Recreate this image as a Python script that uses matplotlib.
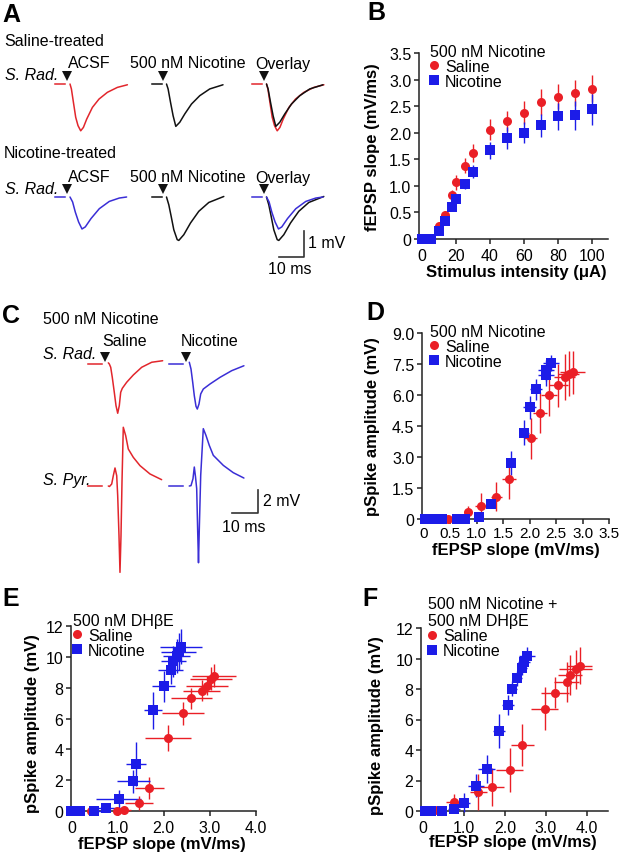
import matplotlib
matplotlib.use('Agg')
import matplotlib.pyplot as plt
from matplotlib.lines import Line2D

plt.rcParams['font.family'] = ['Liberation Sans', 'DejaVu Sans']

# ---------------- DATA ----------------
# Panel A traces: time (ms from stimulus), voltage (mV from baseline)
base_t = [-6.0, -2.0]
base_v = [0.0, 0.0]
a_sal_acsf_t = [0, 0.56, 1.36, 2.28, 3.2, 4.28, 5.36, 6.68, 8.96, 11.6, 14.96, 18.96, 22.96]
a_sal_acsf_v = [0, -0.19, -0.7, -1.28, -1.6, -1.8, -1.67, -1.35, -0.9, -0.58, -0.32, -0.13, -0.03]
a_sal_nic_t = [0, 0.64, 1.6, 2.64, 3.72, 5.32, 7.32, 10.0, 13.3, 17.3, 22.6]
a_sal_nic_v = [0, -0.19, -0.7, -1.22, -1.63, -1.47, -1.15, -0.77, -0.45, -0.19, -0.03]
a_nic_acsf_t = [0, 1.04, 2.12, 3.44, 4.8, 6.12, 8.4, 11.72, 15.72, 19.72, 22.64]
a_nic_acsf_v = [0, -0.19, -0.58, -0.96, -1.23, -1.15, -0.83, -0.45, -0.17, -0.04, 0]
a_nic_nic_t = [0, 0.92, 1.88, 2.92, 4.28, 4.92, 6.92, 9.6, 12.92, 16.92, 22.92]
a_nic_nic_v = [0, -0.3, -0.75, -1.26, -1.64, -1.67, -1.45, -1.0, -0.55, -0.21, 0.02]

# Panel C traces
c_base_t = [-8.0, -2.5]
c_rad_sal_t = [0, 0.4, 0.95, 1.57, 2.36, 3.03, 3.7, 4.33, 4.88, 5.51, 7.24, 9.84, 13.15, 17.1, 21.4]
c_rad_sal_v = [0.1, 0, -0.28, -1.14, -2.42, -3.56, -4.21, -3.56, -2.42, -2.08, -1.56, -0.94, -0.28, 0.15, 0.28]
c_rad_nic_t = [0, 0.67, 1.34, 1.97, 2.64, 3.15, 3.82, 4.49, 5.51, 8.15, 12.1, 16.7, 21.5]
c_rad_nic_v = [0.15, -0.43, -1.56, -2.71, -3.62, -3.85, -3.42, -2.56, -2.14, -1.71, -1.14, -0.57, -0.15]
c_pyr_sal_t = [0, 0.47, 1.34, 1.97, 2.64, 3.31, 3.7, 4.21, 4.6, 5.0, 5.39, 5.9, 6.85, 7.87, 9.84, 12.48, 16.4, 21.0]
c_pyr_sal_v = [0, -0.04, 0.17, 0.88, 1.54, 0.88, -0.83, -4.25, -7.38, -4.25, 0.32, 5.02, 4.3, 3.16, 2.45, 1.74, 1.03, 0.54]
c_pyr_nic_t = [0, 0.67, 1.45, 1.97, 2.44, 2.91, 3.31, 3.62, 3.94, 4.49, 5.51, 6.57, 7.87, 9.45, 13.4, 17.3, 21.5]
c_pyr_nic_v = [0, 0.03, 0.62, 1.62, 0.79, -0.23, -3.93, -6.56, -3.65, 0.91, 4.9, 4.32, 3.47, 2.62, 1.76, 1.14, 0.68]

# Panel B
b_stim = [0, 5, 10, 13.5, 17.5, 20, 25, 30, 40, 50, 60, 70, 80, 90, 100]
b_sal = [0, 0, 0.24, 0.45, 0.83, 1.07, 1.38, 1.62, 2.06, 2.22, 2.38, 2.58, 2.68, 2.75, 2.83]
b_sal_err = [0, 0, 0.06, 0.08, 0.1, 0.14, 0.14, 0.17, 0.2, 0.19, 0.21, 0.24, 0.24, 0.25, 0.25]
b_nic = [0, 0, 0.15, 0.34, 0.61, 0.75, 1.04, 1.27, 1.67, 1.9, 2.0, 2.14, 2.31, 2.33, 2.44]
b_nic_err = [0, 0, 0.04, 0.05, 0.05, 0.06, 0.09, 0.12, 0.16, 0.2, 0.2, 0.22, 0.25, 0.27, 0.29]

# Panel D
d_sal_x = [0.25, 0.46, 0.83, 1.07, 1.37, 1.61, 2.02, 2.2, 2.36, 2.54, 2.66, 2.74, 2.81]
d_sal_y = [0, 0, 0.32, 0.65, 1.07, 1.94, 3.9, 5.14, 5.98, 6.46, 6.87, 7.04, 7.1]
d_sal_xerr = [0, 0.05, 0.08, 0.1, 0.1, 0.13, 0.12, 0.13, 0.15, 0.18, 0.2, 0.2, 0.23]
d_sal_yerr = [0, 0, 0.3, 0.6, 0.7, 0.95, 1.0, 1.0, 1.0, 1.05, 1.1, 1.1, 1.05]
d_nic_x = [0.02, 0.18, 0.35, 0.63, 0.78, 1.05, 1.27, 1.65, 1.89, 2.0, 2.12, 2.31, 2.31, 2.4]
d_nic_y = [0, 0, 0, 0, 0, 0.1, 0.71, 2.71, 4.17, 5.41, 6.27, 6.95, 7.19, 7.54]
d_nic_xerr = [0, 0, 0, 0, 0, 0.07, 0.08, 0.08, 0.1, 0.12, 0.12, 0.15, 0.15, 0.15]
d_nic_yerr = [0, 0, 0, 0, 0, 0.05, 0.2, 0.6, 0.6, 0.55, 0.5, 0.5, 0.5, 0.4]

# Panel E
e_sal_x = [0.42, 0.99, 1.13, 1.47, 1.69, 2.09, 2.42, 2.6, 2.82, 2.94, 3.02, 3.09]
e_sal_y = [0, 0, 0.05, 0.5, 1.5, 4.72, 6.33, 7.3, 7.81, 8.13, 8.58, 8.78]
e_sal_xerr = [0.05, 0.1, 0.15, 0.3, 0.32, 0.5, 0.45, 0.44, 0.41, 0.45, 0.46, 0.47]
e_sal_yerr = [0, 0, 0.1, 0.45, 0.7, 0.86, 0.75, 0.7, 0.7, 0.6, 0.75, 0.75]
e_nic_x = [0.0, 0.18, 0.48, 0.75, 1.02, 1.34, 1.4, 1.77, 2.0, 2.15, 2.21, 2.28, 2.33, 2.37]
e_nic_y = [0, 0, 0, 0.17, 0.75, 1.93, 3.05, 6.55, 8.09, 9.12, 9.7, 10.06, 10.32, 10.67]
e_nic_xerr = [0, 0.05, 0.15, 0.3, 0.48, 0.36, 0.22, 0.2, 0.25, 0.27, 0.28, 0.3, 0.38, 0.45]
e_nic_yerr = [0, 0, 0, 0.1, 0.6, 0.75, 1.4, 1.2, 1.0, 0.85, 1.0, 1.1, 1.2, 1.15]

# Panel F
f_sal_x = [0.28, 0.76, 1.35, 1.67, 2.11, 2.42, 2.97, 3.22, 3.5, 3.58, 3.72, 3.82]
f_sal_y = [0.05, 0.6, 1.24, 1.6, 2.7, 4.33, 6.72, 7.76, 8.46, 8.91, 9.28, 9.54]
f_sal_xerr = [0.05, 0.2, 0.2, 0.3, 0.33, 0.28, 0.33, 0.35, 0.3, 0.3, 0.4, 0.3]
f_sal_yerr = [0, 0.5, 1.2, 1.25, 1.45, 1.4, 1.4, 1.0, 1.3, 1.3, 1.3, 1.2]
f_nic_x = [0.04, 0.2, 0.45, 0.76, 1.0, 1.29, 1.55, 1.85, 2.07, 2.18, 2.3, 2.41, 2.47, 2.54]
f_nic_y = [0, 0, 0, 0.1, 0.55, 1.67, 2.76, 5.26, 6.96, 8.02, 8.7, 9.39, 9.76, 10.15]
f_nic_xerr = [0, 0, 0, 0.15, 0.15, 0.2, 0.2, 0.15, 0.15, 0.12, 0.12, 0.12, 0.15, 0.2]
f_nic_yerr = [0, 0, 0, 0.1, 0.6, 0.75, 0.9, 1.1, 0.65, 0.5, 0.5, 0.45, 0.5, 0.6]

# ---------------- STYLE / LAYOUT ----------------
W, H, DPI = 621, 853, 100
RED = '#ea1f26'
BLUE = '#1c1ce8'
TRED = '#e2262c'
TBLUE = '#3a2ed6'
BLACK = '#111111'
FS = 11.5
LFS = 12
PFS = 18

fig = plt.figure(figsize=(W / DPI, H / DPI), dpi=DPI)


def rect(l, t, r, b):
    return [l / W, 1 - b / H, (r - l) / W, (b - t) / H]


def ftext(x, y, s, **kw):
    kw.setdefault('fontsize', FS)
    kw.setdefault('va', 'center')
    kw.setdefault('ha', 'left')
    fig.text(x / W, 1 - y / H, s, **kw)


def trace(ax, t, v, x0, y0, color, lw=1.1):
    ax.plot([x0 + a for a in t], [y0 + b for b in v], color=color, lw=lw,
            solid_joinstyle='round', solid_capstyle='round')


def baseline(ax, bt, x0, y0, color, lw=1.1):
    ax.plot([x0 + a for a in bt], [y0 + b for b in base_v], color=color, lw=lw)


# ---------------- PANEL A ----------------
axA = fig.add_axes(rect(0, 60, 340, 280))
axA.set_xlim(0, 340 / 2.5)
axA.set_ylim(-220 / 26, 0)
axA.axis('off')
colsA = [70 / 2.5, 166.5 / 2.5, 266.5 / 2.5]
rowsA = [-25 / 26, -138 / 26]
# row 1: saline-treated
baseline(axA, base_t, colsA[0], rowsA[0], TRED)
trace(axA, a_sal_acsf_t, a_sal_acsf_v, colsA[0], rowsA[0], TRED)
baseline(axA, base_t, colsA[1], rowsA[0], BLACK)
trace(axA, a_sal_nic_t, a_sal_nic_v, colsA[1], rowsA[0], BLACK)
baseline(axA, base_t, colsA[2], rowsA[0], TRED)
trace(axA, a_sal_acsf_t, a_sal_acsf_v, colsA[2], rowsA[0], TRED)
trace(axA, a_sal_nic_t, a_sal_nic_v, colsA[2], rowsA[0], BLACK)
# row 2: nicotine-treated
baseline(axA, base_t, colsA[0], rowsA[1], TBLUE)
trace(axA, a_nic_acsf_t, a_nic_acsf_v, colsA[0], rowsA[1], TBLUE)
baseline(axA, base_t, colsA[1], rowsA[1], BLACK)
trace(axA, a_nic_nic_t, a_nic_nic_v, colsA[1], rowsA[1], BLACK)
baseline(axA, base_t, colsA[2], rowsA[1], TBLUE)
trace(axA, a_nic_nic_t, a_nic_nic_v, colsA[2], rowsA[1], BLACK)
trace(axA, a_nic_acsf_t, a_nic_acsf_v, colsA[2], rowsA[1], TBLUE)
for r in rowsA:
    for c in colsA:
        axA.plot(c - 1.2, r + 0.3, marker='v', color=BLACK, ms=7, mew=0)
# scale bar (10 ms, 1 mV)
sbx, sby = 304 / 2.5, -(258 - 60) / 26
axA.plot([sbx - 10, sbx, sbx], [sby, sby, sby + 1], color='#333333', lw=1.2)

ftext(2, 15, 'A', fontsize=PFS, fontweight='bold')
ftext(4, 41, 'Saline-treated')
ftext(4, 154, 'Nicotine-treated')
for yy in (64, 178):
    ftext(68, yy, 'ACSF')
    ftext(130, yy, '500 nM Nicotine')
    ftext(255, yy, 'Overlay')
ftext(5, 75, 'S. Rad.', style='italic')
ftext(5, 189, 'S. Rad.', style='italic')
ftext(308, 244, '1 mV')
ftext(268, 270, '10 ms')

# ---------------- PANEL C ----------------
axC = fig.add_axes(rect(0, 340, 340, 600))
axC.set_xlim(0, 340 / 2.54)
axC.set_ylim(-260 / 11.7, 0)
axC.axis('off')
colsC = [108.3 / 2.54, 189.3 / 2.54]
rowsC = [-25 / 11.7, -147 / 11.7]
baseline(axC, c_base_t, colsC[0], rowsC[0], TRED)
trace(axC, c_rad_sal_t, c_rad_sal_v, colsC[0], rowsC[0], TRED)
baseline(axC, c_base_t, colsC[1], rowsC[0], TBLUE)
trace(axC, c_rad_nic_t, c_rad_nic_v, colsC[1], rowsC[0], TBLUE)
baseline(axC, c_base_t, colsC[0], rowsC[1], TRED)
trace(axC, c_pyr_sal_t, c_pyr_sal_v, colsC[0], rowsC[1], TRED)
baseline(axC, c_base_t, colsC[1], rowsC[1], TBLUE)
trace(axC, c_pyr_nic_t, c_pyr_nic_v, colsC[1], rowsC[1], TBLUE)
for c in colsC:
    axC.plot(c - 1.3, rowsC[0] + 0.6, marker='v', color=BLACK, ms=7, mew=0)
sbx, sby = 257.7 / 2.54, -(514 - 340) / 11.7
axC.plot([sbx - 10, sbx, sbx], [sby, sby, sby + 2], color='#333333', lw=1.2)

ftext(2, 316, 'C', fontsize=PFS, fontweight='bold')
ftext(43, 319, '500 nM Nicotine')
ftext(102, 342, 'Saline')
ftext(181, 342, 'Nicotine')
ftext(43, 355, 'S. Rad.', style='italic')
ftext(43, 481, 'S. Pyr.', style='italic')
ftext(263, 502, '2 mV')
ftext(222, 527, '10 ms')


# ---------------- SCATTER PANELS ----------------
def style(ax, xpad=3):
    for s in ('top', 'right'):
        ax.spines[s].set_visible(False)
    for s in ('left', 'bottom'):
        ax.spines[s].set_linewidth(1.1)
        ax.spines[s].set_color('#222222')
    ax.tick_params(direction='out', length=3.5, width=1.1, labelsize=FS, pad=2,
                   color='#222222')
    ax.tick_params(axis='x', pad=xpad)


def legend(ax, title, x, y):
    handles = [Line2D([], [], marker='o', ls='none', color=RED, ms=6.5, mew=0),
               Line2D([], [], marker='s', ls='none', color=BLUE, ms=6.5, mew=0)]
    ax.legend(handles, ['Saline', 'Nicotine'], title=title, loc='upper left',
              bbox_to_anchor=(x / W, 1 - y / H), bbox_transform=fig.transFigure,
              frameon=False, borderpad=0, borderaxespad=0, handlelength=0.5,
              handletextpad=0.45, labelspacing=0.0, fontsize=FS,
              title_fontsize=FS, alignment='left')


def ebar(ax, x, y, xerr, yerr, color, fmt):
    ax.errorbar(x, y, xerr=xerr, yerr=yerr, fmt=fmt, color=color, ecolor=color,
                ms=6.5, mew=0, elinewidth=1.0, capsize=2.2, capthick=1.0,
                clip_on=False, zorder=3)


# Panel B
axB = fig.add_axes(rect(419, 54, 608, 240))
ebar(axB, b_stim, b_sal, None, b_sal_err, RED, 'o')
ebar(axB, b_stim, b_nic, None, b_nic_err, BLUE, 's')
axB.set_xlim(-1.8, 109.4)
axB.set_ylim(0, 3.5)
axB.set_xticks([0, 20, 40, 60, 80, 100])
axB.set_yticks([0, 0.5, 1.0, 1.5, 2.0, 2.5, 3.0, 3.5])
axB.set_yticklabels(['0', '0.5', '1.0', '1.5', '2.0', '2.5', '3.0', '3.5'])
style(axB)
legend(axB, '500 nM Nicotine', 430, 45)
ftext(367, 13, 'B', fontsize=PFS, fontweight='bold')
ftext(516, 272, 'Stimulus intensity (\u03bcA)', fontsize=LFS, fontweight='bold', ha='center')
ftext(373, 147, 'fEPSP slope (mV/ms)', fontsize=LFS, fontweight='bold', ha='center',
      rotation=90)

# Panel D
axD = fig.add_axes(rect(422, 334, 609, 520))
ebar(axD, d_sal_x, d_sal_y, d_sal_xerr, d_sal_yerr, RED, 'o')
ebar(axD, d_nic_x, d_nic_y, d_nic_xerr, d_nic_yerr, BLUE, 's')
axD.set_xlim(-0.037, 3.5)
axD.set_ylim(0, 9.0)
axD.set_xticks([0, 0.5, 1.0, 1.5, 2.0, 2.5, 3.0, 3.5])
axD.set_xticklabels(['0', '0.5', '1.0', '1.5', '2.0', '2.5', '3.0', '3.5'])
axD.set_yticks([0, 1.5, 3.0, 4.5, 6.0, 7.5, 9.0])
axD.set_yticklabels(['0', '1.5', '3.0', '4.5', '6.0', '7.5', '9.0'])
style(axD, xpad=1.5)
for lab in axD.get_xticklabels():
    lab.set_fontsize(11)
legend(axD, '500 nM Nicotine', 430, 325)
ftext(366, 313, 'D', fontsize=PFS, fontweight='bold')
ftext(516, 550, 'fEPSP slope (mV/ms)', fontsize=LFS, fontweight='bold', ha='center')
ftext(373, 427, 'pSpike amplitude (mV)', fontsize=LFS, fontweight='bold', ha='center',
      rotation=90)

# Panel E
axE = fig.add_axes(rect(71, 627, 256, 812))
ebar(axE, e_sal_x, e_sal_y, e_sal_xerr, e_sal_yerr, RED, 'o')
ebar(axE, e_nic_x, e_nic_y, e_nic_xerr, e_nic_yerr, BLUE, 's')
axE.set_xlim(-0.01, 4.0)
axE.set_ylim(0, 12)
axE.set_xticks([0, 1, 2, 3, 4])
axE.set_xticklabels(['0', '1.0', '2.0', '3.0', '4.0'])
axE.set_yticks([0, 2, 4, 6, 8, 10, 12])
style(axE)
legend(axE, '500 nM DH\u03b2E', 73, 614)
ftext(2, 599, 'E', fontsize=PFS, fontweight='bold')
ftext(162, 845, 'fEPSP slope (mV/ms)', fontsize=LFS, fontweight='bold', ha='center')
ftext(33, 724, 'pSpike amplitude (mV)', fontsize=LFS, fontweight='bold', ha='center',
      rotation=90)

# Panel F
axF = fig.add_axes(rect(421, 629, 608, 812))
ebar(axF, f_sal_x, f_sal_y, f_sal_xerr, f_sal_yerr, RED, 'o')
ebar(axF, f_nic_x, f_nic_y, f_nic_xerr, f_nic_yerr, BLUE, 's')
axF.set_xlim(-0.05, 4.51)
axF.set_ylim(0, 12)
axF.set_xticks([0, 1, 2, 3, 4])
axF.set_xticklabels(['0', '1.0', '2.0', '3.0', '4.0'])
axF.set_yticks([0, 2, 4, 6, 8, 10, 12])
style(axF)
legend(axF, '500 nM Nicotine +\n500 nM DH\u03b2E', 428, 597)
ftext(362, 599, 'F', fontsize=PFS, fontweight='bold')
ftext(513, 843, 'fEPSP slope (mV/ms)', fontsize=LFS, fontweight='bold', ha='center')
ftext(377, 726, 'pSpike amplitude (mV)', fontsize=LFS, fontweight='bold', ha='center',
      rotation=90)

fig.savefig('out.png', dpi=DPI)
